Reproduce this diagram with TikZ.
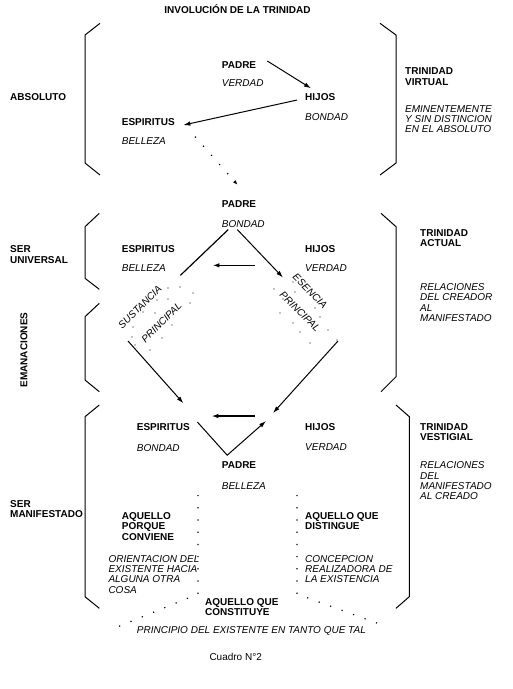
\documentclass[tikz,border=0pt]{standalone}
\usepackage{fontspec}
\setmainfont{Liberation Sans}
\usepackage{tikz}
\usetikzlibrary{arrows.meta,positioning}

\begin{document}
\begin{tikzpicture}[x=1pt, y=-1pt,
  term/.style={anchor=north west, inner sep=0pt, align=left, font=\fontsize{10}{10.3}\selectfont\bfseries},
  qual/.style={anchor=north west, inner sep=0pt, align=left, font=\fontsize{10}{10.3}\selectfont\itshape},
  diag/.style={anchor=center, inner sep=0pt, font=\fontsize{10}{10.3}\selectfont\itshape},
  arr/.style={-{Latex[length=7pt,width=4.5pt]}, line width=1pt},
  edge/.style={line width=1.2pt},
  brk/.style={line width=1pt},
  sparse/.style={line width=1.2pt, dash pattern=on 1.2pt off 11pt}
]
\useasboundingbox (0,0) rectangle (513,689);

\node[term, anchor=base] (title) at (237.5,13.3) {INVOLUCIÓN DE LA TRINIDAD};

% brackets
\draw[brk] (100,23.3) -- (85,35) -- (85,163) -- (100,175);
\draw[brk] (380,23.3) -- (396,35) -- (396,163) -- (380,175);
\draw[brk] (99.3,213.3) -- (85,226.7) -- (85,278.3) -- (99.3,289.3);
\draw[brk] (99.3,303.3) -- (85,316.7) -- (85,380) -- (99.3,391.7);
\draw[brk] (381,213.3) -- (396,226.7) -- (396,376.7) -- (381,391.7);
\draw[brk] (99.3,405) -- (85,416.7) -- (85,596.7) -- (99.3,608.3);
\draw[brk] (396,405) -- (409.3,416.7) -- (409.3,596.7) -- (396,608.3);

% left column
\node[term] (abs) at (10,93.3) {ABSOLUTO};
\node[term] (univ) at (10,245.7) {SER\\UNIVERSAL};
\node[term, rotate=90, anchor=center] (eman) at (24,350) {EMANACIONES};
\node[term] (manif) at (10,500) {SER\\MANIFESTADO};

% right column
\node[term] (tvirt) at (405,67.7) {TRINIDAD\\VIRTUAL};
\node[qual] (nvirt) at (405,105) {EMINENTEMENTE\\Y SIN DISTINCION\\EN EL ABSOLUTO};
\node[term] (tact) at (420,229) {TRINIDAD\\ACTUAL};
\node[qual] (nact) at (420,283.3) {RELACIONES\\DEL CREADOR\\AL\\MANIFESTADO};
\node[term] (tvest) at (420,423.3) {TRINIDAD\\VESTIGIAL};
\node[qual] (nvest) at (420,461.7) {RELACIONES\\DEL\\MANIFESTADO\\AL CREADO};

% trinidad virtual
\node[term] (pa1) at (221.7,61) {PADRE};
\node[qual, below=11.1pt of pa1.south west, anchor=north west] (ve1) {VERDAD};
\node[term] (hi1) at (305,93.3) {HIJOS};
\node[qual, below=12.8pt of hi1.south west, anchor=north west] (bo1) {BONDAD};
\node[term] (es1) at (121.7,118.3) {ESPIRITUS};
\node[qual, below=11.2pt of es1.south west, anchor=north west] (be1) {BELLEZA};

\draw[arr] ([xshift=11pt,yshift=3.6pt]pa1.east) -- ([xshift=6pt,yshift=5pt]hi1.north west);
\draw[arr] ([xshift=-8pt,yshift=-3pt]hi1.west) -- ([xshift=8.5pt,yshift=-3pt]es1.east);

% trinidad actual
\node[term] (pa2) at (221.7,200) {PADRE};
\node[qual, below=12.8pt of pa2.south west, anchor=north west] (bo2) {BONDAD};
\node[term] (es2) at (121.7,245.7) {ESPIRITUS};
\node[qual, below=11.1pt of es2.south west, anchor=north west] (be2) {BELLEZA};
\node[term] (hi2) at (305,245.7) {HIJOS};
\node[qual, below=11.1pt of hi2.south west, anchor=north west] (ve2) {VERDAD};

\draw[sparse, -{Latex[length=5pt,width=3.5pt]}] ([xshift=29pt,yshift=4pt]be1.east) -- ([xshift=16pt,yshift=15pt]pa2.north west);

\draw[edge] ([xshift=-15pt,yshift=-2pt]bo2.south) -- ([xshift=14.4pt,yshift=-7.4pt]be2.east);
\draw[edge, arr] ([xshift=-6pt,yshift=-2pt]bo2.south) -- ([xshift=-22pt,yshift=-6pt]ve2.south west);
\draw[arr, line width=1.6pt] ([xshift=-50pt,yshift=2.6pt]ve2.west) -- ([xshift=46.4pt,yshift=2.6pt]be2.east);

\node[diag, rotate=45] (sust) at (140,307) {SUSTANCIA};
\node[diag, rotate=45] (pril) at (161.5,322.5) {PRINCIPAL};
\node[diag, rotate=-45] (esen) at (310,291) {ESENCIA};
\node[diag, rotate=-45] (prir) at (300,311.5) {PRINCIPAL};

\foreach \p in {(168,288),(180,287),(193,293),(157,300),(168,299),(190,303),(143,312),(155,313),
  (172,325),(133,327),(132,337),(162,338),(135,345),(150,350),
  (274,289),(293,282),(295,292),(280,313),(315,308),(320,317),(293,323),(300,332),
  (328,330),(310,343),(337,340),(283,299)}
  \fill \p circle (0.7pt);

% trinidad vestigial
\node[term] (es3) at (136.7,423.3) {ESPIRITUS};
\node[qual, below=13.5pt of es3.south west, anchor=north west] (bo3) {BONDAD};
\node[term] (hi3) at (305,423.3) {HIJOS};
\node[qual, below=12.2pt of hi3.south west, anchor=north west] (ve3) {VERDAD};
\node[term] (pa3) at (221.7,461.7) {PADRE};
\node[qual, below=13.4pt of pa3.south west, anchor=north west] (be3) {BELLEZA};

\coordinate (sl) at (128,341);
\coordinate (sr) at (338,341);
\draw[edge, arr] (sl) -- ([xshift=-6.5pt,yshift=20pt]es3.north east);
\draw[edge, arr] (sr) -- ([xshift=-32pt,yshift=14pt]hi3.west);
\draw[edge, arr] ([xshift=7.5pt,yshift=5pt]es3.east) -- ([xshift=5.5pt,yshift=6.5pt]pa3.north west) -- ([xshift=-39pt,yshift=6pt]hi3.west);
\draw[arr, line width=1.6pt] ([xshift=-50pt,yshift=11pt]hi3.west) -- ([xshift=21.5pt,yshift=11pt]es3.east);

\node[term] (conv) at (121.7,512.3) {AQUELLO\\PORQUE\\CONVIENE};
\node[term] (dist) at (305,512.3) {AQUELLO QUE\\DISTINGUE};
\node[qual] (orie) at (108.3,555) {ORIENTACION DEL\\EXISTENTE HACIA\\ALGUNA OTRA\\COSA};
\node[qual] (conc) at (305,555) {CONCEPCION\\REALIZADORA DE\\LA EXISTENCIA};
\node[term] (cons) at (205,598.3) {AQUELLO QUE\\CONSTITUYE};
\node[qual] (prin) at (136.7,626.7) {PRINCIPIO DEL EXISTENTE EN TANTO QUE TAL};

\draw[sparse] (198,495) -- (198,594) -- (110,630);
\draw[sparse] (297,495) -- (297,594) -- (385,626);

\node[anchor=north west, inner sep=0pt, font=\fontsize{10}{10.3}\selectfont] (cuad) at (209.3,653.3) {Cuadro N°2};
\end{tikzpicture}
\end{document}
